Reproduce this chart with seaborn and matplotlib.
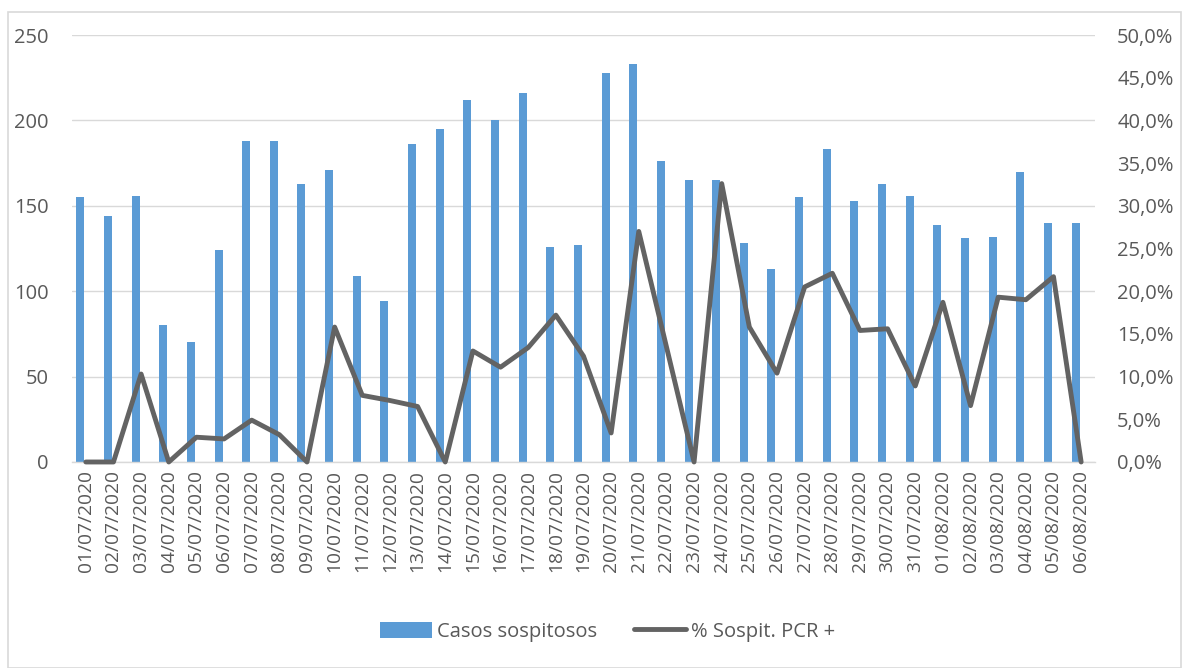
import numpy as np
import pandas as pd
import matplotlib
matplotlib.use("Agg")
import matplotlib.pyplot as plt
import seaborn as sns
from matplotlib.patches import Patch, Rectangle
from matplotlib.lines import Line2D
from matplotlib.ticker import FuncFormatter, FixedLocator

sns.set_style("white")
plt.rcParams['font.family'] = ['Open Sans', 'DejaVu Sans']

# data
fechas = ['01/07/2020', '02/07/2020', '03/07/2020', '04/07/2020', '05/07/2020',
          '06/07/2020', '07/07/2020', '08/07/2020', '09/07/2020', '10/07/2020',
          '11/07/2020', '12/07/2020', '13/07/2020', '14/07/2020', '15/07/2020',
          '16/07/2020', '17/07/2020', '18/07/2020', '19/07/2020', '20/07/2020',
          '21/07/2020', '22/07/2020', '23/07/2020', '24/07/2020', '25/07/2020',
          '26/07/2020', '27/07/2020', '28/07/2020', '29/07/2020', '30/07/2020',
          '31/07/2020', '01/08/2020', '02/08/2020', '03/08/2020', '04/08/2020',
          '05/08/2020', '06/08/2020']
casos = [155, 144, 156, 80, 70, 124, 188, 188, 163, 171, 109, 94, 186, 195,
         212, 200, 216, 126, 127, 228, 233, 176, 165, 165, 128, 113, 155, 183,
         153, 163, 156, 139, 131, 132, 170, 140, 140]
pct_pcr = [0.0, 0.0, 10.3, 0.0, 2.9, 2.7, 4.9, 3.2, 0.0, 15.8, 7.8, 7.2, 6.5,
           0.0, 13.0, 11.1, 13.4, 17.2, 12.4, 3.4, 27.0, 13.5, 0.0, 32.6, 15.8,
           10.4, 20.5, 22.1, 15.4, 15.6, 8.9, 18.7, 6.6, 19.3, 19.0, 21.7, 0.0]

bar_color = '#5B9BD5'
line_color = '#636363'
grid_color = '#D9D9D9'
text_color = '#595959'

df = pd.DataFrame({'fecha': fechas, 'casos': casos,
                   'pct': np.array(pct_pcr) / 100.0})
n = len(df)

fig, ax = plt.subplots(figsize=(11.84, 6.68), dpi=100)
fig.subplots_adjust(left=0.0608, right=0.9248, top=0.9476, bottom=0.3084)

sns.barplot(data=df, x='fecha', y='casos', color=bar_color, saturation=1,
            width=0.29, ax=ax)
# Excel draws the bars a little left of the category centre
for p in ax.patches:
    p.set_x(p.get_x() - 0.2)
    p.set_edgecolor('none')

ax2 = ax.twinx()
sns.lineplot(x=np.arange(n), y=df['pct'], ax=ax2, color=line_color,
             linewidth=3.5, solid_joinstyle='round', clip_on=False)

ax.set_xlim(-0.5, n - 0.5)
ax.set_ylim(0, 250)
ax2.set_ylim(0, 0.5)
ax.set_yticks(range(0, 251, 50))
ax2.set_yticks(np.arange(0, 0.501, 0.05))
ax2.yaxis.set_major_formatter(FuncFormatter(lambda v, pos: f"{v*100:.1f}%".replace('.', ',')))

ax.set_xlabel('')
ax.set_ylabel('')
ax2.set_xlabel('')
ax2.set_ylabel('')

ax.set_axisbelow(True)
ax.yaxis.grid(True, color=grid_color, linewidth=1)
ax.xaxis.grid(False)
for s in ['top', 'left', 'right']:
    ax.spines[s].set_visible(False)
for s in ax2.spines:
    ax2.spines[s].set_visible(False)
ax.spines['bottom'].set_color(grid_color)
ax.spines['bottom'].set_linewidth(1)

ax.set_xticks(range(n))
ax.set_xticklabels(fechas, rotation=90)
ax.xaxis.set_minor_locator(FixedLocator(np.arange(-0.5, n, 1)))
ax.tick_params(axis='x', which='major', length=0, pad=6, labelsize=13.8,
               colors=text_color)
ax.tick_params(axis='x', which='minor', length=5, width=1, color=grid_color,
               direction='out')
ax.tick_params(axis='y', length=0, pad=17, labelsize=14.5, colors=text_color)
ax2.tick_params(axis='y', length=0, pad=16, labelsize=14.5, colors=text_color)

handles = [Patch(facecolor=bar_color, edgecolor='none'),
           Line2D([0], [0], color=line_color, linewidth=3.5)]
leg = fig.legend(handles, ['Casos sospitosos', '% Sospit. PCR +'],
                 loc='center', bbox_to_anchor=(0.513, 0.054), ncol=2,
                 frameon=False, fontsize=14.5, handlelength=2.6,
                 handleheight=0.9, handletextpad=0.25, columnspacing=1.8)
for t in leg.get_texts():
    t.set_color(text_color)

# chart area border
fig.patches.append(Rectangle((8 / 1184, 0.0), 1173 / 1184, 1 - 12 / 668,
                             transform=fig.transFigure, fill=False,
                             edgecolor=grid_color, linewidth=1.2))

plt.savefig('out.png', dpi=100)
plt.close()
